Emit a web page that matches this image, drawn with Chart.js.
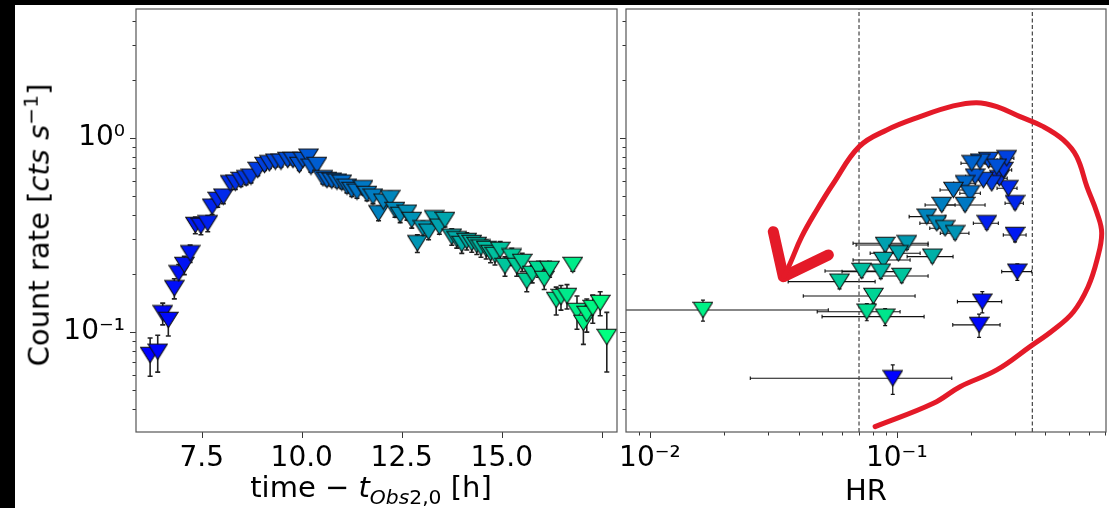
<!DOCTYPE html>
<html><head><meta charset="utf-8">
<script src="https://cdn.jsdelivr.net/npm/chart.js@4.4.1/dist/chart.umd.min.js"></script>
<style>
html,body{margin:0;padding:0;background:#000;width:1109px;height:508px;overflow:hidden;}
#fig{position:absolute;left:15px;top:5px;width:1094px;height:503px;background:#fff;}
canvas{position:absolute;top:0;}
.lbl{position:absolute;font-family:"DejaVu Sans";color:#000;white-space:nowrap;font-size:29px;line-height:1;}
.lbl sup,.lbl sub{font-size:70%;}
</style></head><body>
<div id="fig">
<canvas id="c1" width="605" height="503" style="left:0"></canvas>
<canvas id="c2" width="489" height="503" style="left:605px"></canvas>
<div class="lbl" id="ylab" style="left:22px;top:220px;transform:translate(-50%,-50%) rotate(-90deg);">Count rate [<i>cts s</i><sup>−1</sup>]</div>
<div class="lbl" id="xlab1" style="left:356px;top:485px;transform:translate(-50%,-50%);">time − <i>t</i><sub><i>Obs</i>2,0</sub> [h]</div>
<div class="lbl" id="xlab2" style="left:851px;top:485px;transform:translate(-50%,-50%);">HR</div>
</div>
<script>
// ---- light curve (left panel) ----
const timeH = [6.21,6.40,6.525,6.665,6.815,6.925,7.065,7.21,7.34,7.48,
 7.65,7.76,7.90,8.04,8.21,8.34,8.48,8.61,8.73,8.90,
 9.07,9.19,9.34,9.48,9.65,9.78,9.94,10.03,10.17,10.23,
 10.38,10.53,10.63,10.75,10.88,11.00,11.13,11.25,11.38,11.53,
 11.63,11.78,11.92,12.04,12.21,12.33,12.46,12.63,12.75,12.89,
 13.03,13.17,13.31,13.44,13.58,13.75,13.875,14.00,14.125,14.25,
 14.375,14.48,14.61,14.72,14.83,14.96,15.08,15.25,15.375,15.51,
 15.625,15.76,15.915,16.06,16.195,16.36,16.48,16.63,16.775,16.88,
 17.04,17.125,17.275,17.46,17.625];
const countRate = [0.0761,0.0791,0.1248,0.1153,0.168,0.2007,0.2215,0.2544,0.356,0.352,
 0.3634,0.4423,0.4793,0.4984,0.5841,0.5883,0.6074,0.6198,0.6316,0.6842,
 0.7257,0.7406,0.7548,0.7548,0.7702,0.770,0.7257,0.770,0.801,0.7113,
 0.7257,0.620,0.607,0.6024,0.5953,0.5883,0.561,0.5395,0.5287,0.5505,
 0.5144,0.4984,0.409,0.4697,0.4889,0.4253,0.401,0.412,0.3778,0.2866,
 0.3423,0.3289,0.3855,0.3489,0.3778,0.3099,0.3005,0.2841,0.2944,0.2875,
 0.2808,0.2726,0.2678,0.2553,0.2493,0.2647,0.2188,0.2449,0.2188,0.2295,
 0.1832,0.1991,0.2113,0.1876,0.2113,0.1462,0.1515,0.1533,0.2215,0.1283,
 0.1113,0.1238,0.1329,0.1411,0.0942];
const countRateErr = [0.017,0.017,0.016,0.02,0.02,0.022,0.024,0.026,0.035,0.035,
 0.035,0.04,0.04,0.04,0.045,0.045,0.045,0.045,0.045,0.045,
 0.045,0.045,0.045,0.045,0.045,0.045,0.045,0.045,0.045,0.045,
 0.045,0.04,0.04,0.04,0.04,0.04,0.04,0.04,0.04,0.04,
 0.04,0.04,0.035,0.04,0.04,0.035,0.035,0.035,0.035,0.03,
 0.03,0.03,0.03,0.03,0.03,0.03,0.03,0.03,0.03,0.03,
 0.03,0.03,0.03,0.028,0.028,0.028,0.025,0.025,0.025,0.025,
 0.022,0.02,0.02,0.022,0.02,0.024,0.022,0.022,0.016,0.025,
 0.025,0.024,0.022,0.02,0.032];

// ---- hardness ratio (right panel) ----
const hrTime = [6.25,6.55,6.85,7.1,7.35,7.6,7.85,8.1,8.35,8.6,
 8.85,9.1,9.35,9.6,9.85,10.1,10.35,10.6,10.85,11.1,
 11.35,11.6,11.85,12.1,12.35,12.6,12.85,13.1,13.35,13.6,
 13.85,14.1,14.4,14.7,15.0,15.3,15.7,16.1,16.5,17.0];
const hrValue = [0.0963,0.2154,0.222,0.3077,0.3013,0.2314,0.3013,0.283,0.2602,0.270,
 0.2424,0.2788,0.2242,0.2349,0.254,0.2075,0.2174,0.2012,0.189,0.198,
 0.1695,0.189,0.1521,0.1323,0.1452,0.1569,0.1722,0.1098,0.0897,0.1015,
 0.0882,0.1393,0.0861,0.0721,0.1047,0.0586,0.0804,0.0756,0.0897,0.0164];
const hrLow = [0.0255,0.1685,0.176,0.266,0.270,0.2042,0.2745,0.2547,0.242,0.250,
 0.222,0.262,0.205,0.215,0.236,0.190,0.198,0.182,0.170,0.180,
 0.1497,0.1569,0.1302,0.1122,0.124,0.136,0.150,0.0665,0.0684,0.078,
 0.0665,0.1101,0.060,0.0512,0.0856,0.0363,0.0418,0.0476,0.0498,0.004];
const hrHigh = [0.167,0.262,0.266,0.352,0.334,0.2578,0.3256,0.3069,0.28,0.292,
 0.265,0.298,0.245,0.255,0.272,0.226,0.238,0.2278,0.208,0.218,
 0.2075,0.2278,0.1722,0.1569,0.168,0.184,0.196,0.1339,0.1339,0.1243,
 0.1132,0.169,0.0984,0.0856,0.1339,0.0817,0.1186,0.1031,0.129,0.0528];
const hrRate = [0.0577,0.1087,0.1433,0.2045,0.3162,0.3634,0.4607,0.5505,0.620,0.684,
 0.584,0.786,0.607,0.770,0.711,0.632,0.755,0.741,0.584,0.5187,
 0.5395,0.4515,0.4515,0.3929,0.3634,0.3423,0.3226,0.2866,0.2808,0.2544,
 0.235,0.2444,0.2045,0.2063,0.1943,0.1817,0.1533,0.1272,0.1199,0.1298];
const hrRateErr = [0.01,0.015,0.018,0.02,0.025,0.025,0.03,0.035,0.035,0.04,
 0.035,0.04,0.035,0.04,0.04,0.035,0.04,0.04,0.035,0.03,
 0.03,0.028,0.028,0.025,0.024,0.022,0.022,0.02,0.02,0.018,
 0.017,0.017,0.016,0.016,0.015,0.015,0.013,0.013,0.012,0.016];
const hrThresholds = [0.0703, 0.354];

// hand-drawn red annotation, in (HR, rate) coordinates
const arrowPathHR   = [0.0817,0.1407,0.1804,0.2541,0.3465,0.4306,0.5188,0.5950,0.6471,0.6761,0.6471,0.5894,0.5355,0.4726,0.3922,0.3156,0.2541,0.2108,0.1694,0.1243,0.0911,0.0704,0.0554,0.0474,0.0412,0.0370,0.0350];
const arrowPathRate = [0.0325,0.0429,0.0522,0.0637,0.0840,0.1024,0.1268,0.1706,0.2350,0.3227,0.4106,0.5591,0.8010,0.9765,1.1433,1.2877,1.4500,1.5205,1.4622,1.2877,1.0995,0.9020,0.5841,0.4253,0.3099,0.2259,0.1943];
const arrowHeadHR   = [0.0316,0.0347,0.0528];
const arrowHeadRate = [0.3289,0.1927,0.2493];

// ---- axes ----
const timeRange = [5.857, 17.88];
const rateRange = [0.0305, 4.62];
const hrRange = [0.0080, 0.7037];
const timeTicks = [7.5, 10, 12.5, 15, 17.5];
const timeLabelTicks = [7.5, 10, 12.5, 15];
const timeTickLabels = ['7.5', '10.0', '12.5', '15.0'];
const rateTicks = [0.04,0.05,0.06,0.07,0.08,0.09,0.1,0.2,0.3,0.4,0.5,0.6,0.7,0.8,0.9,1,2,3,4];
const rateMajor = [0.1, 1];
const rateMajorLabels = ['10⁻¹', '10⁰'];
const hrTicks = [0.009,0.01,0.02,0.03,0.04,0.05,0.06,0.07,0.08,0.09,0.1,0.2,0.3,0.4,0.5,0.6,0.7];
const hrMajor = [0.01, 0.1];
const hrMajorLabels = ['10⁻²', '10⁻¹'];

// ---- helpers ----
const FONT = {family: 'DejaVu Sans', size: 28};
function winter(n){ n = Math.max(0, Math.min(1, n)); return 'rgb(0,' + Math.round(255*n) + ',' + Math.round(255*(1-0.5*n)) + ')'; }
const tMin = timeH[0], tMax = timeH[timeH.length-1];
function colorFor(t){ return winter((t - tMin)/(tMax - tMin)); }
function triMarker(color){
  const c = document.createElement('canvas'); c.width = 21; c.height = 18;
  const g = c.getContext('2d');
  g.beginPath(); g.moveTo(0.8,1.2); g.lineTo(20.2,1.2); g.lineTo(10.5,16.8); g.closePath();
  g.fillStyle = color; g.fill(); g.lineWidth = 1.1; g.strokeStyle = '#111'; g.lineJoin='miter'; g.stroke();
  return c;
}
function near(a, b){ return Math.abs(a-b) < 1e-9*Math.max(1,Math.abs(b)); }
function labelFrom(vals, labels){ return v => { for (let i=0;i<vals.length;i++) if (near(v, vals[i])) return labels[i]; return ''; }; }
function fitTo(w, h){ return s => { if (w !== null) s.width = w; if (h !== null) s.height = h;
  s.paddingTop = 0; s.paddingBottom = 0; s.paddingLeft = 0; s.paddingRight = 0; }; }

function axesPlugin(xTicks, xMajor, yTicks, yMajor){
  return { id: 'mplAxes', afterDraw(chart){
    const ctx = chart.ctx, a = chart.chartArea, xs = chart.scales.x, ys = chart.scales.y;
    ctx.save(); ctx.strokeStyle = '#333'; ctx.lineWidth = 1;
    yTicks.forEach(v => { const p = Math.round(ys.getPixelForValue(v)) + 0.5; const L = yMajor.some(m=>near(v,m)) ? 6 : 3.5;
      ctx.beginPath(); ctx.moveTo(a.left, p); ctx.lineTo(a.left - L, p); ctx.stroke(); });
    xTicks.forEach(v => { const p = Math.round(xs.getPixelForValue(v)) + 0.5; const L = xMajor.some(m=>near(v,m)) ? 6 : 3.5;
      ctx.beginPath(); ctx.moveTo(p, a.bottom); ctx.lineTo(p, a.bottom + L); ctx.stroke(); });
    ctx.strokeStyle = '#555'; ctx.lineWidth = 1.2;
    ctx.strokeRect(a.left, a.top, a.right - a.left, a.bottom - a.top);
    ctx.restore();
  }};
}
function errorBarPlugin(spec){
  return { id: 'errBars', beforeDatasetsDraw(chart){
    const ctx = chart.ctx, a = chart.chartArea, xs = chart.scales.x, ys = chart.scales.y;
    ctx.save(); ctx.beginPath(); ctx.rect(a.left, a.top, a.right-a.left, a.bottom-a.top); ctx.clip();
    ctx.strokeStyle = spec.color;
    for (let j = 0; j < spec.x.length; j++){
      const px = xs.getPixelForValue(spec.x[j]), py = ys.getPixelForValue(spec.y[j]);
      if (spec.yErr){
        ctx.lineWidth = spec.yWidth;
        const y1 = ys.getPixelForValue(spec.y[j] + spec.yErr[j]);
        const y2 = ys.getPixelForValue(Math.max(1e-6, spec.y[j] - spec.yErr[j]));
        ctx.beginPath(); ctx.moveTo(px, y1); ctx.lineTo(px, y2);
        ctx.moveTo(px - spec.yCap, y1); ctx.lineTo(px + spec.yCap, y1);
        ctx.moveTo(px - spec.yCap, y2); ctx.lineTo(px + spec.yCap, y2); ctx.stroke();
      }
      if (spec.xLo){
        ctx.lineWidth = spec.xWidth;
        const x1 = xs.getPixelForValue(spec.xLo[j]), x2 = xs.getPixelForValue(spec.xHi[j]);
        ctx.beginPath(); ctx.moveTo(x1, py); ctx.lineTo(x2, py);
        ctx.moveTo(x1, py - spec.xCap); ctx.lineTo(x1, py + spec.xCap);
        ctx.moveTo(x2, py - spec.xCap); ctx.lineTo(x2, py + spec.xCap); ctx.stroke();
      }
    }
    ctx.restore();
  }};
}

const commonTicks = {font: FONT, color: '#000', autoSkip: false, maxRotation: 0, minRotation: 0};
const noGrid = {display: false, drawTicks: false};

// ---- left chart ----
new Chart(document.getElementById('c1'), {
  type: 'scatter',
  data: { datasets: [{
    data: timeH.map((t, i) => ({x: t, y: countRate[i]})),
    pointStyle: timeH.map(t => triMarker(colorFor(t))),
    pointRadius: 9, pointHoverRadius: 9
  }]},
  options: {
    responsive: false, animation: false, devicePixelRatio: 1, events: [],
    layout: {autoPadding: false, padding: {top: 4, right: 3, left: 0, bottom: 0}},
    plugins: {legend: {display: false}, tooltip: {enabled: false}},
    scales: {
      x: {type: 'linear', min: timeRange[0], max: timeRange[1],
          afterBuildTicks: s => { s.ticks = timeLabelTicks.map(v => ({value: v})); },
          ticks: Object.assign({}, commonTicks, {padding: 10, callback: labelFrom(timeLabelTicks, timeTickLabels)}),
          grid: noGrid, border: {display: false}, afterFit: fitTo(null, 76)},
      y: {type: 'logarithmic', min: rateRange[0], max: rateRange[1],
          afterBuildTicks: s => { s.ticks = rateMajor.map(v => ({value: v})); },
          ticks: Object.assign({}, commonTicks, {padding: 11, callback: labelFrom(rateMajor, rateMajorLabels)}),
          grid: noGrid, border: {display: false}, afterFit: fitTo(121, null)}
    }
  },
  plugins: [
    errorBarPlugin({x: timeH, y: countRate, yErr: countRateErr, color: '#222', yWidth: 1.6, yCap: 2.5}),
    axesPlugin(timeTicks, timeTicks, rateTicks, rateMajor)
  ]
});

// ---- right chart ----
const thresholdSets = hrThresholds.map(h => ({
  type: 'line', data: [{x: h, y: rateRange[0]}, {x: h, y: rateRange[1]}],
  borderColor: '#444', borderWidth: 1.2, borderDash: [4, 2.5], pointRadius: 0, fill: false, order: 3
}));
new Chart(document.getElementById('c2'), {
  type: 'scatter',
  data: { datasets: [
    { type: 'line', data: arrowPathHR.map((h, i) => ({x: h, y: arrowPathRate[i]})),
      borderColor: '#e41a28', borderWidth: 5, tension: 0.4, pointRadius: 0, fill: false,
      borderCapStyle: 'round', borderJoinStyle: 'round', order: 0 },
    { type: 'line', data: arrowHeadHR.map((h, i) => ({x: h, y: arrowHeadRate[i]})),
      borderColor: '#e41a28', borderWidth: 11, tension: 0, pointRadius: 0, fill: false,
      borderCapStyle: 'round', borderJoinStyle: 'round', order: 0 },
    { data: hrValue.map((h, i) => ({x: h, y: hrRate[i]})),
      pointStyle: hrTime.map(t => triMarker(colorFor(t))),
      pointRadius: 9, pointHoverRadius: 9, order: 1 },
    ...thresholdSets
  ]},
  options: {
    responsive: false, animation: false, devicePixelRatio: 1, events: [],
    layout: {autoPadding: false, padding: {top: 4, right: 3, left: 6, bottom: 0}},
    plugins: {legend: {display: false}, tooltip: {enabled: false}},
    scales: {
      x: {type: 'logarithmic', min: hrRange[0], max: hrRange[1],
          afterBuildTicks: s => { s.ticks = hrMajor.map(v => ({value: v})); },
          ticks: Object.assign({}, commonTicks, {padding: 10, callback: labelFrom(hrMajor, hrMajorLabels)}),
          grid: noGrid, border: {display: false}, afterFit: fitTo(null, 76)},
      y: {type: 'logarithmic', display: false, min: rateRange[0], max: rateRange[1],
          afterBuildTicks: s => { s.ticks = rateMajor.map(v => ({value: v})); },
          ticks: {display: false}, grid: noGrid, border: {display: false}, afterFit: fitTo(0, null)}
    }
  },
  plugins: [
    errorBarPlugin({x: hrValue, y: hrRate, yErr: hrRateErr, xLo: hrLow, xHi: hrHigh, color: '#111',
                    yWidth: 1.2, yCap: 2, xWidth: 1.1, xCap: 1.8}),
    axesPlugin(hrTicks, hrMajor, rateTicks, rateMajor)
  ]
});
</script>
</body></html>
